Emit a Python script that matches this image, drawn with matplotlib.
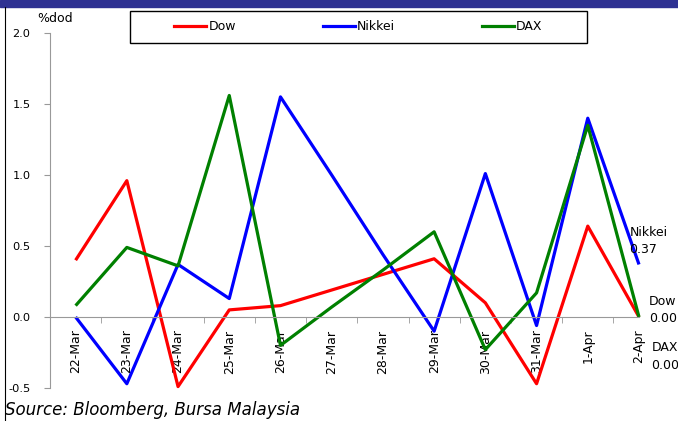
import numpy as np
import matplotlib.pyplot as plt
from matplotlib.lines import Line2D
from matplotlib.patches import Rectangle

fechas = ['22-Mar', '23-Mar', '24-Mar', '25-Mar', '26-Mar', '27-Mar',
          '28-Mar', '29-Mar', '30-Mar', '31-Mar', '1-Apr', '2-Apr']
dow = [0.40, 0.96, -0.49, 0.05, 0.08, 0.19, 0.30, 0.41, 0.10, -0.47, 0.64, 0.00]
nikkei = [0.00, -0.47, 0.37, 0.13, 1.55, 1.00, 0.44, -0.10, 1.01, -0.06, 1.40, 0.37]
dax = [0.08, 0.49, 0.36, 1.56, -0.20, 0.07, 0.33, 0.60, -0.23, 0.17, 1.35, 0.00]

series = [('Dow', dow, '#ff0000'), ('Nikkei', nikkei, '#0000ff'), ('DAX', dax, '#008000')]

fig = plt.figure(figsize=(6.78, 4.21), dpi=100)
ax = fig.add_axes([50 / 678, 1 - 388 / 421, 589 / 678, 355 / 421])

x = np.arange(len(fechas))
for nombre, valores, color in series:
    ax.plot(x, valores, color=color, lw=2.3, label=nombre, solid_capstyle='butt',
            clip_on=False)

ax.set_xlim(-0.5, len(fechas) - 1)
ax.set_ylim(-0.5, 2.0)
ax.set_yticks([-0.5, 0.0, 0.5, 1.0, 1.5, 2.0])
ax.set_yticklabels(['-0.5', '0.0', '0.5', '1.0', '1.5', '2.0'], fontsize=8.2)

# eje x en cero, etiquetas en las fechas y marcas entre categorias
ax.spines['bottom'].set_position(('data', 0))
ax.spines['bottom'].set_color('#999999')
ax.spines['left'].set_color('#999999')
ax.spines['top'].set_visible(False)
ax.spines['right'].set_visible(False)
ax.set_xticks(x)
ax.set_xticklabels(fechas, rotation=90, fontsize=9)
ax.set_xticks(np.arange(0.5, len(fechas) - 1, 1), minor=True)
ax.tick_params(axis='x', which='major', length=0, pad=9)
ax.tick_params(axis='x', which='minor', length=4, color='#999999', direction='out')
ax.tick_params(axis='y', length=4, color='#999999', direction='out', pad=10)
ax.set_facecolor('none')

fig.text(37 / 678, 1 - 19 / 421, '%dod', fontsize=9, va='center')

# leyenda sin marco propio, dentro de un recuadro fijo
fig.patches.append(Rectangle((130 / 678, 1 - 43 / 421), 457 / 678, 32 / 421,
                             transform=fig.transFigure, fill=False,
                             edgecolor='black', lw=1.0))
leg = fig.legend(handles=[Line2D([], [], color=c, lw=2.3) for _, _, c in series],
                 labels=[n for n, _, _ in series], loc='center',
                 bbox_to_anchor=(358.5 / 678, 1 - 27 / 421), ncol=3, fontsize=9,
                 frameon=False, handlelength=2.56, handletextpad=0.2,
                 columnspacing=6.9, borderpad=0.0)

# etiquetas de ultimo valor a la derecha
ax.annotate('Nikkei\n%.2f' % nikkei[-1], xy=(x[-1], nikkei[-1]), xytext=(-7, 17),
            textcoords='offset points', fontsize=9, va='center', ha='left',
            annotation_clip=False, linespacing=1.45)
ax.annotate('Dow\n%.2f' % dow[-1], xy=(x[-1], dow[-1]), xytext=(7, 5),
            textcoords='offset points', fontsize=9, va='center', ha='left',
            annotation_clip=False, linespacing=1.45)
ax.annotate('DAX\n%.2f' % dax[-1], xy=(x[-1], dax[-1]), xytext=(9, -28.5),
            textcoords='offset points', fontsize=9, va='center', ha='left',
            annotation_clip=False, linespacing=1.45)

fig.text(5 / 678, 1 - 410 / 421, 'Source: Bloomberg, Bursa Malaysia', fontsize=12,
         style='italic', va='center', ha='left')

# barra superior y borde izquierdo
fig.patches.append(Rectangle((0, 1 - 7 / 421), 1, 7 / 421, transform=fig.transFigure,
                             color='#2e3192', zorder=0))
fig.lines.append(Line2D([4.5 / 678, 4.5 / 678], [0, 1 - 7 / 421],
                        transform=fig.transFigure, color='black', lw=0.8))

fig.savefig('out.png', dpi=100)
